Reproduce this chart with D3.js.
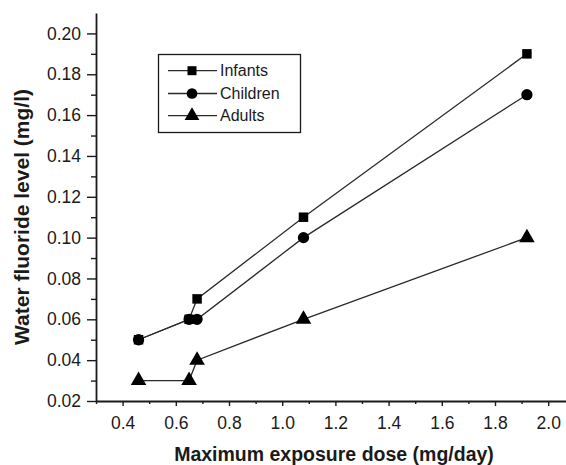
<!DOCTYPE html>
<html>
<head>
<meta charset="utf-8">
<script src="https://cdn.jsdelivr.net/npm/d3@7"></script>
<style>
  html, body { margin: 0; padding: 0; background: #fff; }
  svg { display: block; font-family: "Liberation Sans", Arial, Helvetica, sans-serif; }
</style>
</head>
<body>
<div id="chart"></div>
<script>
(function () {
  'use strict';

  // data
  const doses = [0.46, 0.65, 0.68, 1.08, 1.92];
  const infants = [0.05, 0.06, 0.07, 0.11, 0.19];
  const children = [0.05, 0.06, 0.06, 0.10, 0.17];
  const adults = [0.03, 0.03, 0.04, 0.06, 0.10];
  const seriesNames = ['Infants', 'Children', 'Adults'];

  const xTicks = [0.4, 0.6, 0.8, 1.0, 1.2, 1.4, 1.6, 1.8, 2.0];
  const yTicks = [0.02, 0.04, 0.06, 0.08, 0.10, 0.12, 0.14, 0.16, 0.18, 0.20];

  const width = 566, height = 465;
  const left = 96, bottom = 401, top = 13;

  const x = d3.scaleLinear().domain([0.3, 2.1]).range([left, left + 1.8 * 266]);
  const y = d3.scaleLinear().domain([0.02, 0.21]).range([bottom, top]);

  const svg = d3.select('#chart').append('svg')
    .attr('width', width)
    .attr('height', height);

  const ink = '#1a1a1a';

  // minor ticks
  const xMinor = d3.range(3, 22).map(v => v / 10).filter(v => !xTicks.some(t => Math.abs(t - v) < 1e-9));
  const yMinor = d3.range(3, 21, 2).map(v => v / 100);

  svg.append('g')
    .attr('transform', `translate(0,${bottom})`)
    .call(d3.axisBottom(x).tickValues(xMinor).tickSize(3).tickFormat(''))
    .call(g => g.select('.domain').remove())
    .selectAll('line').attr('stroke', ink).attr('stroke-width', 1.4);

  svg.append('g')
    .attr('transform', `translate(${left},0)`)
    .call(d3.axisLeft(y).tickValues(yMinor).tickSize(5).tickFormat(''))
    .call(g => g.select('.domain').remove())
    .selectAll('line').attr('stroke', ink).attr('stroke-width', 1.4);

  // main axes
  const xAxis = svg.append('g')
    .attr('transform', `translate(0,${bottom})`)
    .call(d3.axisBottom(x).tickValues(xTicks).tickSize(5).tickSizeOuter(0)
      .tickPadding(11).tickFormat(d3.format('.1f')));

  const yAxis = svg.append('g')
    .attr('transform', `translate(${left},0)`)
    .call(d3.axisLeft(y).tickValues(yTicks).tickSize(9).tickSizeOuter(0)
      .tickPadding(6).tickFormat(d3.format('.2f')));

  [xAxis, yAxis].forEach(g => {
    g.select('.domain').attr('stroke', ink).attr('stroke-width', 1.8);
    g.selectAll('.tick line').attr('stroke', ink).attr('stroke-width', 1.4);
    g.selectAll('.tick text')
      .attr('fill', ink)
      .style('font-size', '17.5px')
      .style('font-family', '"Liberation Sans", Arial, sans-serif');
  });

  // axis titles
  svg.append('text')
    .attr('x', 334)
    .attr('y', 461)
    .attr('text-anchor', 'middle')
    .attr('fill', ink)
    .style('font-size', '19.5px')
    .style('font-weight', 'bold')
    .text('Maximum exposure dose (mg/day)');

  svg.append('text')
    .attr('transform', 'translate(29,217) rotate(-90)')
    .attr('text-anchor', 'middle')
    .attr('fill', ink)
    .style('font-size', '21px')
    .style('font-weight', 'bold')
    .text('Water fluoride level (mg/l)');

  // series
  const symbols = [d3.symbolSquare, d3.symbolCircle, d3.symbolTriangle];
  const sizes = [90, 100, 105];
  const seriesValues = [infants, children, adults];

  const line = d3.line()
    .x(d => x(d[0]))
    .y(d => y(d[1]));

  seriesValues.forEach((vals, i) => {
    const pts = doses.map((dx, j) => [dx, vals[j]]);
    svg.append('path')
      .datum(pts)
      .attr('fill', 'none')
      .attr('stroke', '#2a2a2a')
      .attr('stroke-width', 1.3)
      .attr('d', line);
  });

  seriesValues.forEach((vals, i) => {
    const pts = doses.map((dx, j) => [dx, vals[j]]);
    svg.append('g')
      .selectAll('path')
      .data(pts)
      .join('path')
      .attr('transform', d => `translate(${x(d[0])},${y(d[1])})`)
      .attr('d', d3.symbol().type(symbols[i]).size(sizes[i]))
      .attr('fill', '#000');
  });

  // legend
  const legend = svg.append('g');
  legend.append('rect')
    .attr('x', 158.5).attr('y', 54.5)
    .attr('width', 142).attr('height', 78)
    .attr('fill', '#fff')
    .attr('stroke', ink)
    .attr('stroke-width', 1.3);

  const rowY = [70.7, 93.5, 115.7];
  seriesNames.forEach((name, i) => {
    const gy = rowY[i];
    legend.append('line')
      .attr('x1', 168).attr('x2', 217)
      .attr('y1', gy).attr('y2', gy)
      .attr('stroke', '#2a2a2a').attr('stroke-width', 1.3);
    legend.append('path')
      .attr('transform', `translate(192,${gy})`)
      .attr('d', d3.symbol().type(symbols[i]).size(sizes[i] * 0.9))
      .attr('fill', '#000');
    legend.append('text')
      .attr('x', 220)
      .attr('y', gy)
      .attr('dy', '0.36em')
      .attr('fill', ink)
      .style('font-size', '16px')
      .text(name);
  });
})();
</script>
</body>
</html>
